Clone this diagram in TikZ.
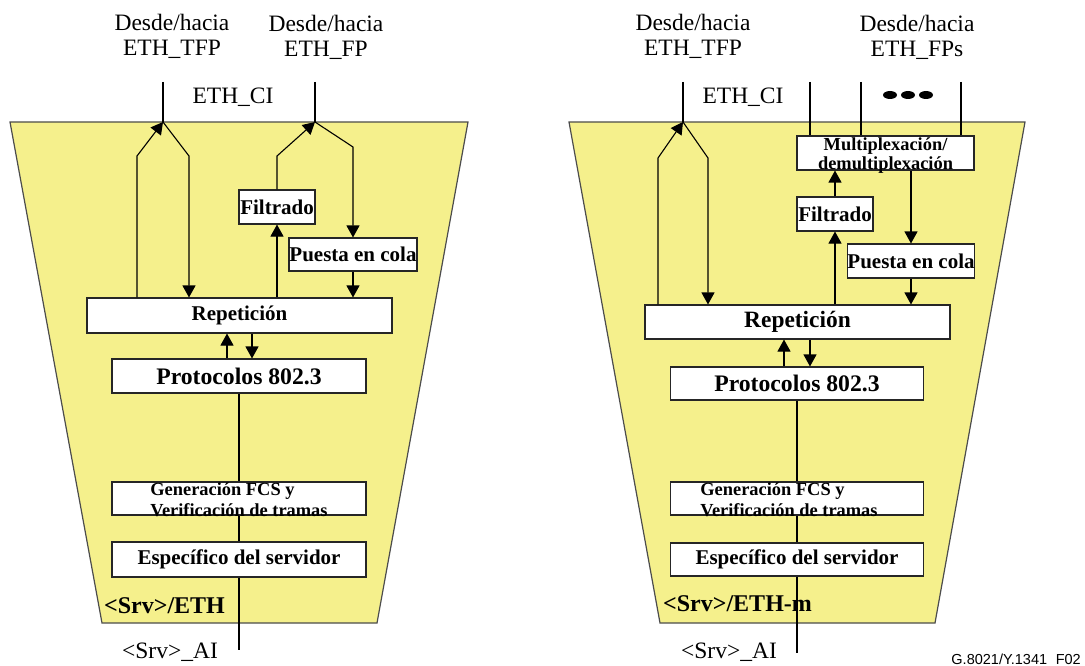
\documentclass[tikz,border=0pt]{standalone}
\usepackage{fontspec}
\setmainfont{Liberation Serif}
\newfontfamily\codefont{Liberation Sans}
\usetikzlibrary{arrows.meta}
\definecolor{funcyellow}{RGB}{245,240,140}
\newcommand{\stacktwo}[3]{\smash{\raisebox{-8pt}{\begin{tabular}{@{}#1@{}}#2\\#3\end{tabular}}}}

\begin{document}
\begin{tikzpicture}[%
      x=1pt, y=-1pt,
      block/.style={rectangle, draw=black!85, fill=white, line width=1.1pt, inner sep=0pt, font=\bfseries\fontsize{21}{24}\selectfont},
      small/.style={font=\bfseries\fontsize{18.4}{21}\selectfont},
      big/.style={font=\bfseries\fontsize{23.7}{26}\selectfont},
      lbl/.style={inner sep=0pt, align=center, font=\fontsize{23.5}{25}\selectfont},
      line/.style={draw, line width=1.1pt, -{Triangle[width=13pt,length=12pt]}},
      wire/.style={draw, line width=1.8pt},
      func/.style={draw=black!70, fill=funcyellow, line width=1.2pt}
      ]
    \useasboundingbox (0,0) rectangle (1085,666);

    % left function
    \draw [func] (10,122) -- (468,122) -- (377,623) -- (102,623) -- cycle;

    \node [lbl] (tfpL) at (172,36) {Desde/hacia\\ETH\_TFP};
    \node [lbl] (fpL) at (326,37) {Desde/hacia\\ETH\_FP};
    \node [lbl] (ciL) at (233,97) {ETH\_CI};

    \coordinate (tfpLtop) at (163,82);
    \coordinate (tfpLj) at (163,122);
    \coordinate (fpLtop) at (315,82);
    \coordinate (fpLj) at (315,122);
    \coordinate (tfpLup) at (137,156);
    \coordinate (tfpLdn) at (189,156);
    \coordinate (fpLup) at (277,156);
    \coordinate (fpLdn) at (353,147);

    \node [block, minimum width=76pt, minimum height=34pt] (filtL) at (277,207) {Filtrado};
    \node [block, minimum width=128pt, minimum height=33pt] (colaL) at (353,254.5) {Puesta en cola};
    \node [block, minimum width=305pt, minimum height=35pt] (repL) at (239.5,315.5) {Repetición};
    \node [block, big, minimum width=254pt, minimum height=34pt] (protoL) at (239,376) {Protocolos 802.3};
    \node [block, small, minimum width=254pt, minimum height=33pt] (fcsL) at (239,498.5) {\stacktwo{l}{Generación FCS y}{Verificación de tramas}};
    \node [block, minimum width=254pt, minimum height=35pt] (srvL) at (239,559.5) {Específico del servidor};

    \node [lbl, anchor=west, font=\bfseries\fontsize{24}{26}\selectfont] (nameL) at (104,606) {<Srv>/ETH};
    \node [lbl] (aiL) at (170,652) {<Srv>\_AI};
    \coordinate (aiLend) at (239,650);

    \path [wire] (tfpLtop) -- (tfpLj);
    \path [wire] (fpLtop) -- (fpLj);
    \path [line] (repL.north -| tfpLup) -- (tfpLup) -- (tfpLj);
    \path [line] (tfpLj) -- (tfpLdn) -- (repL.north -| tfpLdn);
    \path [line] (filtL.north) -- (fpLup) -- (fpLj);
    \path [line] (fpLj) -- (fpLdn) -- (colaL.north);
    \path [line] (repL.north -| filtL) -- (filtL.south);
    \path [line] (colaL.south) -- (repL.north -| colaL);
    \path [line] ([xshift=-12pt]protoL.north) -- ([xshift=-12pt]protoL.north |- repL.south);
    \path [line] ([xshift=13pt]protoL.north |- repL.south) -- ([xshift=13pt]protoL.north);
    \path [wire] (protoL.south) -- (fcsL.north);
    \path [wire] (fcsL.south) -- (srvL.north);
    \path [wire] (srvL.south) -- (aiLend);

    % right function
    \draw [func] (569,122) -- (1025,122) -- (935,623) -- (660,623) -- cycle;

    \node [lbl] (tfpR) at (693,36) {Desde/hacia\\ETH\_TFP};
    \node [lbl] (fpsR) at (917,37) {Desde/hacia\\ETH\_FPs};
    \node [lbl] (ciR) at (743,97) {ETH\_CI};
    \fill (890,95) ellipse [x radius=7pt, y radius=4pt];
    \fill (908,95) ellipse [x radius=7pt, y radius=4pt];
    \fill (926,95) ellipse [x radius=7pt, y radius=4pt];

    \coordinate (tfpRtop) at (683,82);
    \coordinate (tfpRj) at (683,122);
    \coordinate (tfpRup) at (658,158);
    \coordinate (tfpRdn) at (708,158);
    \coordinate (fps1) at (810,82);
    \coordinate (fps2) at (861,82);
    \coordinate (fps3) at (961,82);

    \node [block, font=\bfseries\fontsize{18.4}{19}\selectfont, minimum width=177pt, minimum height=34pt] (muxR) at (885.5,153) {\stacktwo{c}{Multiplexación/}{demultiplexación}};
    \node [block, minimum width=76pt, minimum height=34pt] (filtR) at (835,214) {Filtrado};
    \node [block, minimum width=126pt, minimum height=34pt] (colaR) at (911,261) {Puesta en cola};
    \node [block, font=\bfseries\fontsize{23.4}{26}\selectfont, minimum width=305pt, minimum height=34pt] (repR) at (797.5,322) {Repetición};
    \node [block, big, minimum width=253pt, minimum height=33pt] (protoR) at (797,383.5) {Protocolos 802.3};
    \node [block, small, minimum width=253pt, minimum height=33pt] (fcsR) at (797,498.5) {\hspace*{-16pt}\stacktwo{l}{Generación FCS y}{Verificación de tramas}};
    \node [block, minimum width=253pt, minimum height=33pt] (srvR) at (797,559.5) {Específico del servidor};

    \node [lbl, anchor=west, font=\bfseries\fontsize{24}{26}\selectfont] (nameR) at (663,604) {<Srv>/ETH-m};
    \node [lbl] (aiR) at (729,652) {<Srv>\_AI};
    \coordinate (aiRend) at (797,653);

    \path [wire] (tfpRtop) -- (tfpRj);
    \path [wire] (fps1) -- (muxR.north -| fps1);
    \path [wire] (fps2) -- (muxR.north -| fps2);
    \path [wire] (fps3) -- (muxR.north -| fps3);
    \path [line] (repR.north -| tfpRup) -- (tfpRup) -- (tfpRj);
    \path [line] (tfpRj) -- (tfpRdn) -- (repR.north -| tfpRdn);
    \path [line] (filtR.north) -- (muxR.south -| filtR);
    \path [line] (repR.north -| filtR) -- (filtR.south);
    \path [line] (muxR.south -| colaR) -- (colaR.north);
    \path [line] (colaR.south) -- (repR.north -| colaR);
    \path [line] ([xshift=-13pt]protoR.north) -- ([xshift=-13pt]protoR.north |- repR.south);
    \path [line] ([xshift=13pt]protoR.north |- repR.south) -- ([xshift=13pt]protoR.north);
    \path [wire] (protoR.south) -- (fcsR.north);
    \path [wire] (fcsR.south) -- (srvR.north);
    \path [wire] (srvR.south) -- (aiRend);

    \node [anchor=east, inner sep=0pt, font=\codefont\fontsize{14.5}{16}\selectfont] (figid) at (1081,659) {G.8021/Y.1341\hspace{0.6em}F02};
  \end{tikzpicture}
\end{document}
